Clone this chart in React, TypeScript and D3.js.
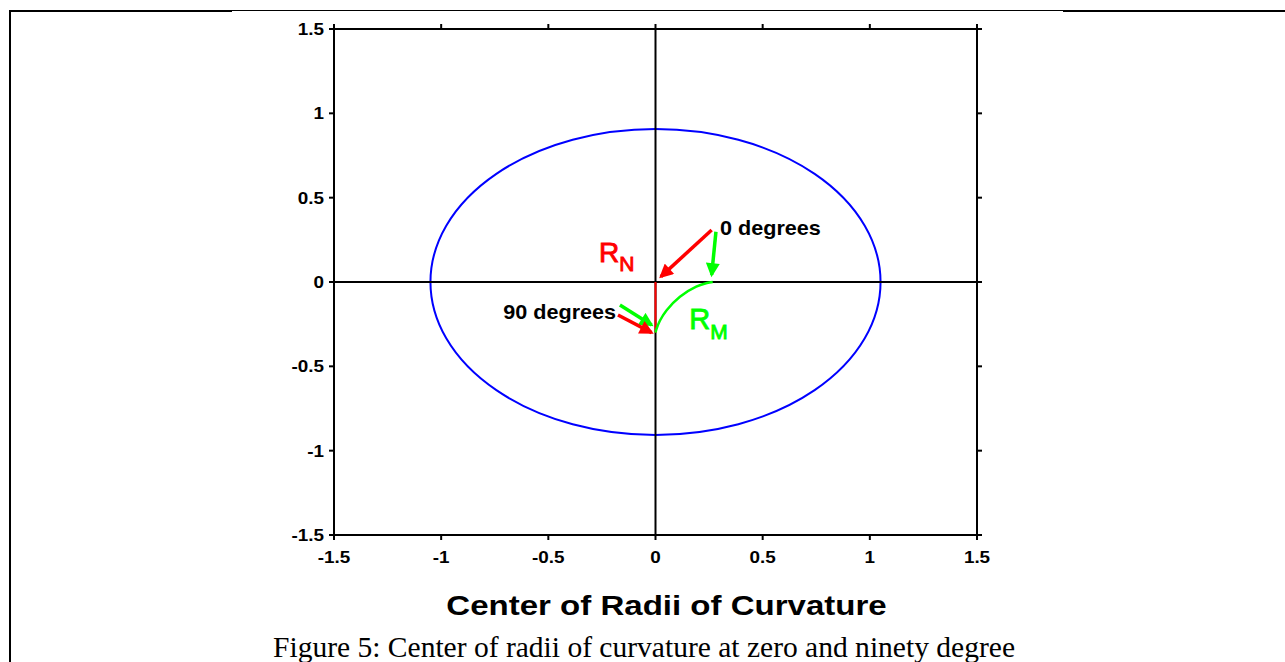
import React, { useEffect, useRef } from 'react';
import * as d3 from 'd3';

// axis ticks (same on both axes)
const tickValues = [-1.5, -1, -0.5, 0, 0.5, 1, 1.5];
const tickLabels = ['-1.5', '-1', '-0.5', '0', '0.5', '1', '1.5'];

// blue ellipse, semi-axes
const ellipseA = 1.05;
const ellipseB = 0.907;

// red R_N segment
const rnX = [0, 0];
const rnY = [0, -0.3];

// green R_M curve (centres of meridian curvature, 0 -> 90 deg)
const rmX = [0.267, 0.24, 0.19, 0.114, 0.052, 0.021, 0.004, 0];
const rmY = [0, -0.006, -0.028, -0.087, -0.167, -0.228, -0.281, -0.3];

// annotation arrows (data coords)
const arrowX1 = [0.262, 0.282, -0.166, -0.175];
const arrowY1 = [0.308, 0.298, -0.136, -0.196];
const arrowX2 = [0.025, 0.262, -0.018, -0.018];
const arrowY2 = [0.032, 0.042, -0.255, -0.3];
const arrowColor = ['#ff0000', '#00ff00', '#00ff00', '#ff0000'];

const SANS = '"Liberation Sans", Arial, sans-serif';
const SERIF = '"Liberation Serif", "Times New Roman", serif';

function App() {
  const svgRef = useRef<SVGSVGElement>(null);

  useEffect(() => {
    const width = 1285;
    const height = 662;
    const svg = d3.select(svgRef.current);
    svg.selectAll('*').remove();
    svg.attr('width', width).attr('height', height);

    const x = d3.scaleLinear().domain([-1.5, 1.5]).range([334, 977]);
    const y = d3.scaleLinear().domain([-1.5, 1.5]).range([535, 29]);

    // page frame
    svg.append('line').attr('x1', 10).attr('x2', 10).attr('y1', 10).attr('y2', height)
      .attr('stroke', '#000').attr('stroke-width', 2);
    svg.append('line').attr('x1', 9).attr('x2', 232).attr('y1', 11).attr('y2', 11)
      .attr('stroke', '#000').attr('stroke-width', 2);
    svg.append('line').attr('x1', 232).attr('x2', 1063).attr('y1', 10.5).attr('y2', 10.5)
      .attr('stroke', '#000').attr('stroke-width', 1);
    svg.append('line').attr('x1', 1063).attr('x2', width).attr('y1', 11).attr('y2', 11)
      .attr('stroke', '#000').attr('stroke-width', 2);

    const defs = svg.append('defs');
    ['#ff0000', '#00ff00'].forEach((c, i) => {
      defs.append('marker')
        .attr('id', `head${i}`)
        .attr('markerUnits', 'userSpaceOnUse')
        .attr('viewBox', '0 0 12 12')
        .attr('refX', 10).attr('refY', 6)
        .attr('markerWidth', 15).attr('markerHeight', 14)
        .attr('orient', 'auto')
        .append('path').attr('d', 'M0,0 L12,6 L0,12 Z').attr('fill', c);
    });

    // stretched text helper (the figure is widened horizontally)
    const label = (px: number, py: number, txt: string, size: number, sx: number,
      anchor: string, fill = '#000', weight = 'bold') => {
      svg.append('g').attr('transform', `translate(${px},${py}) scale(${sx},1)`)
        .append('text')
        .attr('text-anchor', anchor)
        .attr('font-family', SANS)
        .attr('font-weight', weight)
        .attr('font-size', size)
        .attr('fill', fill)
        .text(txt);
    };

    // ellipse
    svg.append('ellipse')
      .attr('cx', x(0)).attr('cy', y(0))
      .attr('rx', x(ellipseA) - x(0)).attr('ry', y(0) - y(ellipseB))
      .attr('fill', 'none').attr('stroke', '#0000ff').attr('stroke-width', 2);

    // cross through origin
    svg.append('line').attr('x1', x(0)).attr('x2', x(0)).attr('y1', y(1.5)).attr('y2', y(-1.5))
      .attr('stroke', '#000').attr('stroke-width', 2);
    svg.append('line').attr('x1', x(-1.5)).attr('x2', x(1.5)).attr('y1', y(0)).attr('y2', y(0))
      .attr('stroke', '#000').attr('stroke-width', 2);

    // frame + outward ticks
    svg.append('rect').attr('x', x(-1.5)).attr('y', y(1.5))
      .attr('width', x(1.5) - x(-1.5)).attr('height', y(-1.5) - y(1.5))
      .attr('fill', 'none').attr('stroke', '#000').attr('stroke-width', 2);
    const tk = 5;
    tickValues.forEach((v, i) => {
      svg.append('line').attr('x1', x(v)).attr('x2', x(v)).attr('y1', y(-1.5)).attr('y2', y(-1.5) + tk)
        .attr('stroke', '#000').attr('stroke-width', 2);
      svg.append('line').attr('x1', x(v)).attr('x2', x(v)).attr('y1', y(1.5)).attr('y2', y(1.5) - tk)
        .attr('stroke', '#000').attr('stroke-width', 2);
      svg.append('line').attr('x1', x(-1.5)).attr('x2', x(-1.5) - tk).attr('y1', y(v)).attr('y2', y(v))
        .attr('stroke', '#000').attr('stroke-width', 2);
      svg.append('line').attr('x1', x(1.5)).attr('x2', x(1.5) + tk).attr('y1', y(v)).attr('y2', y(v))
        .attr('stroke', '#000').attr('stroke-width', 2);
      label(x(-1.5) - 10, y(v) + 6, tickLabels[i], 16, 1.18, 'end');
      label(x(v), y(-1.5) + 28, tickLabels[i], 16, 1.18, 'middle');
    });

    // R_N line and R_M curve
    const line = d3.line<number>().curve(d3.curveLinear);
    svg.append('path')
      .attr('d', line.x((d, i) => x(rnX[i])).y((d, i) => y(d))(rnY))
      .attr('fill', 'none').attr('stroke', '#ff0000').attr('stroke-width', 2);
    const curve = d3.line<number>().curve(d3.curveCatmullRom)
      .x((d, i) => x(rmX[i])).y((d, i) => y(d));
    svg.append('path').attr('d', curve(rmY))
      .attr('fill', 'none').attr('stroke', '#00ff00').attr('stroke-width', 2.5);

    // arrows
    arrowX1.forEach((v, i) => {
      svg.append('line')
        .attr('x1', x(v)).attr('y1', y(arrowY1[i]))
        .attr('x2', x(arrowX2[i])).attr('y2', y(arrowY2[i]))
        .attr('stroke', arrowColor[i]).attr('stroke-width', 3.5)
        .attr('marker-end', `url(#head${arrowColor[i] === '#ff0000' ? 0 : 1})`);
    });

    // annotation text
    label(x(0.301), y(0.279), '0 degrees', 20, 1.08, 'start');
    label(x(-0.184), y(-0.219), '90 degrees', 20, 1.08, 'end');

    const rn = svg.append('text').attr('x', x(-0.264)).attr('y', y(0.119))
      .attr('font-family', SANS).attr('fill', '#ff0000')
      .attr('stroke', '#ff0000').attr('stroke-width', 0.9);
    rn.append('tspan').attr('font-size', 28).text('R');
    rn.append('tspan').attr('font-size', 21).attr('dy', 9).text('N');
    const rm = svg.append('text').attr('x', x(0.158)).attr('y', y(-0.279))
      .attr('font-family', SANS).attr('fill', '#00ff00')
      .attr('stroke', '#00ff00').attr('stroke-width', 0.9);
    rm.append('tspan').attr('font-size', 29).text('R');
    rm.append('tspan').attr('font-size', 21).attr('dy', 10).text('M');

    // axis title and caption
    label((x(-1.5) + x(1.5)) / 2 + 11, 615, 'Center of Radii of Curvature', 28, 1.18, 'middle');
    svg.append('text').attr('x', 273).attr('y', 657)
      .attr('font-family', SERIF).attr('font-size', 29).attr('fill', '#000')
      .attr('textLength', 742).attr('lengthAdjust', 'spacingAndGlyphs')
      .text('Figure 5: Center of radii of curvature at zero and ninety degree');
  }, []);

  return (
    <svg ref={svgRef} style={{ position: 'absolute', left: 0, top: 0, background: '#fff' }}></svg>
  );
}

export default App;
